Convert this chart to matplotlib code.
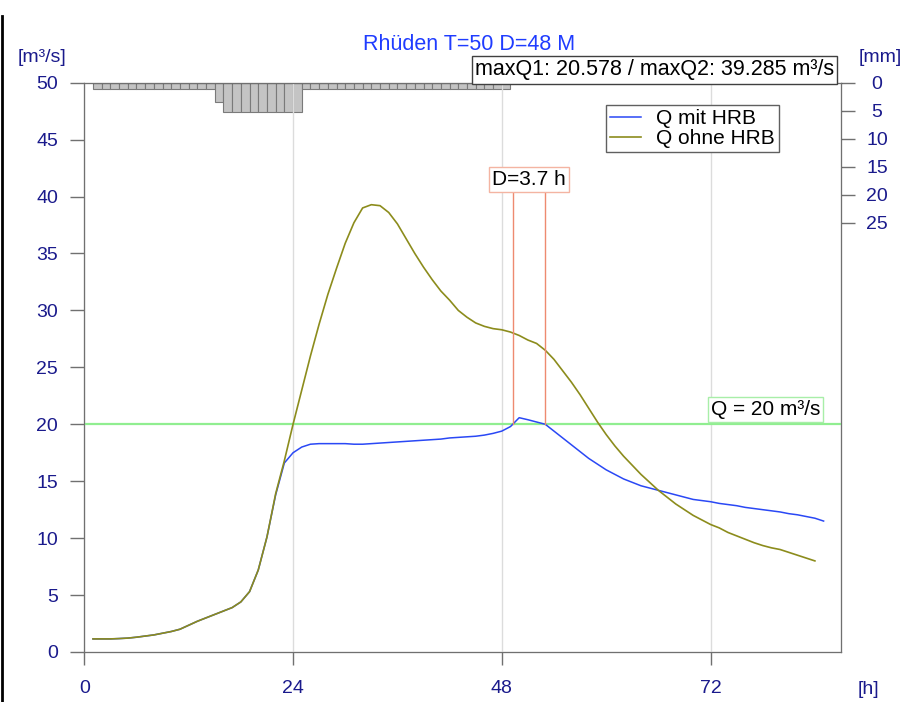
import numpy as np
import matplotlib
matplotlib.use("Agg")
import matplotlib.pyplot as plt
from matplotlib.lines import Line2D
from matplotlib import font_manager

plt.rcParams["font.family"] = ["Liberation Sans", "DejaVu Sans"]

# hourly discharge, ohne HRB (olive) [m3/s]
hours_ohne = np.arange(1, 85)
q_ohne = [1.15, 1.15, 1.15, 1.18, 1.22, 1.3, 1.4, 1.5, 1.65, 1.8,
          2.0, 2.35, 2.7, 3.0, 3.3, 3.6, 3.9, 4.4, 5.3, 7.2,
          10.1, 13.9, 16.8, 20.0, 23.0, 26.0, 28.8, 31.4, 33.7, 35.9,
          37.7, 39.0, 39.285, 39.2, 38.6, 37.6, 36.3, 35.0, 33.8, 32.7,
          31.7, 30.9, 30.0, 29.4, 28.9, 28.6, 28.4, 28.3, 28.1, 27.8,
          27.4, 27.1, 26.5, 25.7, 24.7, 23.7, 22.6, 21.4, 20.2, 19.1,
          18.1, 17.2, 16.4, 15.6, 14.9, 14.2, 13.6, 13.0, 12.5, 12.0,
          11.6, 11.2, 10.9, 10.5, 10.2, 9.9, 9.6, 9.35, 9.15, 9.0,
          8.75, 8.5, 8.25, 8.0]

# hourly discharge, mit HRB (blue) [m3/s]
hours_mit = np.arange(1, 86)
q_mit = [1.15, 1.15, 1.15, 1.18, 1.22, 1.3, 1.4, 1.5, 1.65, 1.8,
         2.0, 2.35, 2.7, 3.0, 3.3, 3.6, 3.9, 4.4, 5.3, 7.2,
         10.1, 13.8, 16.6, 17.5, 18.0, 18.25, 18.3, 18.3, 18.3, 18.3,
         18.25, 18.25, 18.3, 18.35, 18.4, 18.45, 18.5, 18.55, 18.6, 18.65,
         18.7, 18.8, 18.85, 18.9, 18.95, 19.05, 19.2, 19.4, 19.8, 20.578,
         20.4, 20.2, 20.0, 19.4, 18.8, 18.2, 17.6, 17.0, 16.5, 16.0,
         15.6, 15.2, 14.9, 14.6, 14.4, 14.2, 14.0, 13.8, 13.6, 13.4,
         13.3, 13.2, 13.05, 12.95, 12.85, 12.7, 12.6, 12.5, 12.4, 12.3,
         12.15, 12.05, 11.9, 11.75, 11.5]

# hourly precipitation [mm], bar i covers hour i..i+1
rain_hours = np.arange(1, 49)
rain_mm = [1.06] * 14 + [3.5] + [5.25] * 9 + [1.06] * 24

q_limit = 20
x_ticks = [0, 24, 48, 72]
title = "Rhüden T=50 D=48 M"

W, H = 906, 702
navy = "#1a1a8c"
blue = "#2a48f5"
olive = "#8c8c1c"
salmon = "#ee8a70"
green = "#90ee90"
fs = 15

# narrow face for the axis numbers if available
names = {f.name for f in font_manager.fontManager.ttflist}
tick_family = "Liberation Sans Narrow" if "Liberation Sans Narrow" in names else "Liberation Sans"
tick_fs = 16.5 if tick_family == "Liberation Sans Narrow" else 14


def fx(px):
    return px / W


def fy(py):
    return 1 - py / H


fig = plt.figure(figsize=(W / 100, H / 100), dpi=100)
ax = fig.add_axes([fx(84.3), fy(652), fx(841 - 84.3), (652 - 82.7) / H])

ax.set_xlim(0, 87)
ax.set_ylim(0, 50)
ax.set_xticks(x_ticks)
ax.set_yticks(np.arange(0, 51, 5))
ax.grid(axis="x", color="#dcdcdc", lw=1)
ax.set_axisbelow(True)
for s in ax.spines.values():
    s.set_color("#707070")
ax.tick_params(axis="y", length=10, width=1, color="#707070", pad=9,
               labelsize=tick_fs, labelcolor=navy)
ax.tick_params(axis="x", length=9, width=1, color="#707070", pad=11,
               labelsize=tick_fs, labelcolor=navy)

# rainfall on inverted secondary axis
ax2 = ax.twinx()
ax2.set_ylim(101.7, 0)
ax2.set_yticks(np.arange(0, 26, 5))
ax2.tick_params(axis="y", length=10, width=1, color="#707070", pad=16,
                labelsize=tick_fs, labelcolor=navy)
for lab in ax2.get_yticklabels():
    lab.set_horizontalalignment("center")
ax2.bar(rain_hours, rain_mm, width=1, align="edge", color="#c4c4c4",
        edgecolor="#7a7a7a", linewidth=0.8)
ax2.set_zorder(1)
ax.set_zorder(2)
ax.patch.set_visible(False)

for a in (ax, ax2):
    for lab in a.get_xticklabels() + a.get_yticklabels():
        lab.set_family(tick_family)

ax.plot(hours_mit, q_mit, color=blue, lw=1.1, label="Q mit HRB")
ax.plot(hours_ohne, q_ohne, color=olive, lw=1.2, label="Q ohne HRB")
ax.axhline(q_limit, color=green, lw=1.6, zorder=1)

# duration above the limit
t_up = np.interp(q_limit, q_mit[40:50], hours_mit[40:50])
down_q = q_mit[49:60][::-1]
t_down = np.interp(q_limit, down_q, hours_mit[49:60][::-1])
for t in (t_up, t_down):
    ax.plot([t, t], [q_limit, 40.5], color=salmon, lw=1)
ax.text((t_up + t_down) / 2, 41.5, "D=%.1f h" % (t_down - t_up), ha="center",
        va="center", fontsize=fs,
        bbox=dict(boxstyle="square,pad=0.15", fc="white", ec="#f4b4a2", lw=1))

ax.text(78.3, 21.3, "Q = 20 m³/s", ha="center", va="center", fontsize=fs,
        bbox=dict(boxstyle="square,pad=0.15", fc="white", ec="#a8eea8", lw=1))

leg = ax.legend(loc="upper left", bbox_to_anchor=((606 - 84.3) / 756.7, (652 - 105) / 569.3),
                fontsize=fs, frameon=True, fancybox=False, framealpha=1,
                edgecolor="#606060", handlelength=1.5, handletextpad=0.7,
                borderpad=0.2, labelspacing=0.05, borderaxespad=0)
leg.get_frame().set_linewidth(1)

fig.text(fx(469), fy(45), title, ha="center", va="center", fontsize=fs + 0.5, color="#1f3cff")
fig.text(fx(42), fy(57), "[m³/s]", ha="center", va="center", fontsize=tick_fs, color=navy,
         family=tick_family)
fig.text(fx(880), fy(57), "[mm]", ha="center", va="center", fontsize=tick_fs, color=navy,
         family=tick_family)
fig.text(fx(868), fy(690), "[h]", ha="center", va="center", fontsize=tick_fs, color=navy,
         family=tick_family)
fig.text(fx(834), fy(70), "maxQ1: %.3f / maxQ2: %.3f m³/s" % (max(q_mit), max(q_ohne)),
         ha="right", va="center", fontsize=fs + 0.5, color="black", zorder=5,
         bbox=dict(boxstyle="square,pad=0.15", fc="white", ec="#404040", lw=1))

fig.add_artist(Line2D([fx(2), fx(2)], [0, fy(16)], color="black", lw=2))

fig.savefig("out.png", dpi=100)
